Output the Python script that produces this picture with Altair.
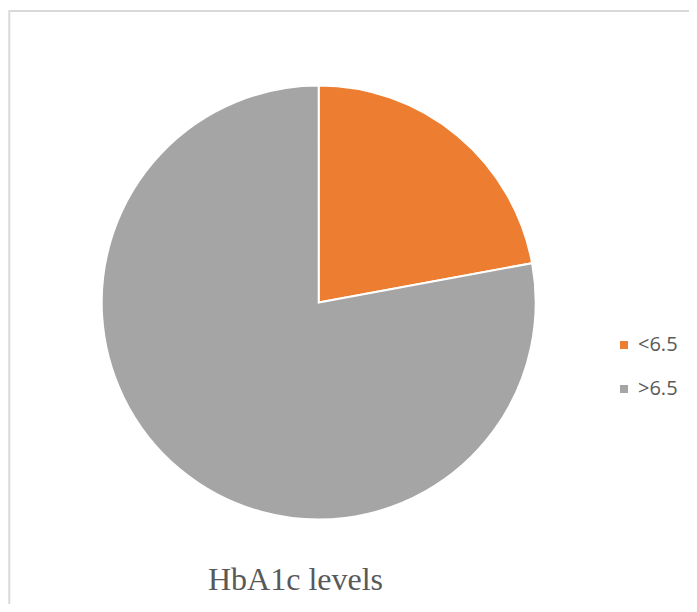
import altair as alt
import pandas as pd

categories = ["<6.5", ">6.5"]
values = [22.1, 77.9]
colors = ["#ED7D31", "#A5A5A5"]

df = pd.DataFrame({"level": categories, "value": values, "order": [0, 1]})

pie = alt.Chart(df).mark_arc(stroke="white", strokeWidth=2, radius=217).encode(
    theta=alt.Theta("value:Q", stack=True),
    order=alt.Order("order:Q"),
    color=alt.Color(
        "level:N",
        scale=alt.Scale(domain=categories, range=colors),
        legend=alt.Legend(
            title=None,
            orient="none",
            legendX=606,
            legendY=327,
            symbolType="square",
            symbolSize=64,
            symbolStrokeWidth=0,
            labelFont="Open Sans",
            labelFontSize=20,
            labelColor="#595959",
            labelOffset=4,
            rowPadding=24,
            padding=0,
        ),
    ),
    x=alt.value(310.7),
    y=alt.value(294.5),
)

border = alt.Chart(alt.Data(values=[{}])).mark_rect(
    fill=None, stroke="#d9d9d9", strokeWidth=2
).encode(
    x=alt.value(1.3), y=alt.value(3), x2=alt.value(900), y2=alt.value(900)
)

chart = alt.layer(border, pie).properties(
    width=681,
    height=596,
    autosize=alt.AutoSizeParams(type="none"),
    padding=0,
    title=alt.TitleParams(
        "HbA1c levels",
        orient="top",
        anchor="start",
        baseline="alphabetic",
        dx=200,
        dy=614,
        offset=0,
        font="Liberation Serif",
        fontSize=32,
        fontWeight="normal",
        color="#595959",
    ),
).configure_view(stroke=None)

chart.save("out.html", embed_options={"renderer": "svg", "actions": False})
